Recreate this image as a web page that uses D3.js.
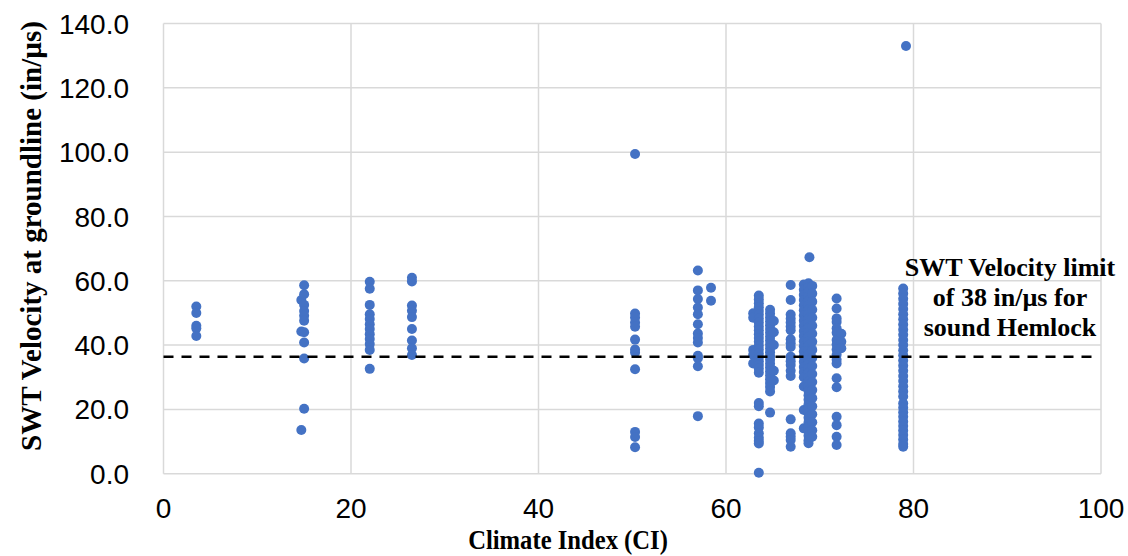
<!DOCTYPE html>
<html>
<head>
<meta charset="utf-8">
<script src="https://cdn.jsdelivr.net/npm/d3@7"></script>
<style>
  body { margin: 0; background: #fff; }
  .tick-label { font-family: "Liberation Sans", Arial, sans-serif; font-size: 28px; fill: #000; }
  .titulo { font-family: "Liberation Serif", "Times New Roman", serif; font-weight: bold; fill: #000; }
</style>
</head>
<body>
<div id="graf"></div>
<script>
// velocities per Climate Index column
const ci03_5 = [52.0, 50.0, 46.0, 45.2, 42.8]
const ci14_7 = [54.0, 44.2, 13.6]
const ci15_0 = [58.6, 55.8, 52.5, 50.6, 49.1, 47.6, 44.0, 40.8, 35.8, 20.2]
const ci22_0 = [59.7, 57.5, 52.5, 49.6, 48.1, 46.5, 45.0, 43.4, 41.9, 40.3, 38.5, 32.6]
const ci26_5 = [60.9, 59.8, 52.3, 50.7, 48.7, 45.0, 41.4, 39.0, 36.9]
const ci50_3 = [99.4, 49.8, 48.6, 47.0, 45.7, 41.7, 38.6, 37.7, 32.5, 13.0, 11.4, 8.2]
const ci57_0 = [63.2, 57.0, 54.3, 51.7, 49.6, 46.5, 43.6, 42.2, 40.8, 36.7, 35.9, 33.4, 17.9]
const ci58_4 = [57.8, 53.8]
const ci62_9 = [49.9, 48.5, 38.5, 37.0, 34.3]
const ci63_5 = [55.4, 54.2, 53.0, 51.8, 50.6, 49.4, 48.2, 47.0, 45.8, 44.6, 43.4, 42.2, 41.0, 39.8,
  38.6, 37.4, 36.2, 35.0, 33.8, 32.6, 31.4, 22.0, 21.0, 15.6, 14.4, 12.6, 11.2, 10.2, 9.4, 0.3]
const ci64_7 = [51.0, 49.8, 48.6, 47.4, 46.2, 45.0, 43.8, 42.6, 41.4, 40.2, 39.0, 37.8, 36.6, 35.4,
  34.2, 33.0, 31.8, 30.6, 29.4, 28.2, 27.0, 25.6, 19.0]
const ci65_1 = [47.5, 44.0, 40.0, 32.0, 29.0]
const ci66_9 = [58.7, 54.0, 49.5, 48.2, 47.0, 45.8, 44.6, 41.8, 40.6, 39.4, 36.4, 35.0, 33.8, 32.0,
  30.4, 16.9, 12.6, 11.5, 10.5, 8.4]
const ci68_3 = [58.8, 57.2, 55.6, 54.0, 52.4, 50.8, 49.2, 47.6, 46.0, 44.4, 42.8, 41.2, 39.6, 38.0,
  36.4, 34.8, 33.2, 31.6, 30.0, 27.1, 19.8, 14.1]
const ci68_8 = [59.2, 58.0, 56.6, 55.2, 53.8, 52.4, 51.0, 49.6, 48.2, 46.8, 45.4, 44.0, 42.6, 41.2,
  39.8, 38.4, 37.0, 35.6, 34.2, 32.8, 31.4, 30.0, 28.6, 27.2, 25.8, 24.4, 23.0, 21.6, 20.2, 18.8,
  17.4, 16.0, 14.6, 13.2, 11.8, 10.4, 9.5]
const ci68_9 = [67.3]
const ci69_2 = [58.4, 56.0, 53.5, 51.0, 48.5, 46.0, 43.5, 41.0, 38.5, 36.0, 33.5, 31.0, 28.5, 26.0,
  23.5, 21.0, 18.5, 16.0, 13.5, 11.5]
const ci71_8 = [54.5, 51.4, 48.3, 47.2, 45.2, 43.8, 41.6, 40.2, 38.6, 37.0, 35.4, 34.3, 29.7, 26.9,
  17.7, 15.1, 11.5, 8.9]
const ci72_3 = [43.5, 41.0, 39.0]
const ci78_9 = [57.6, 56.0, 54.4, 52.8, 51.2, 49.6, 48.0, 46.4, 44.8, 43.2, 41.6, 40.0, 38.4, 36.8,
  35.2, 33.6, 32.0, 30.4, 28.8, 27.2, 25.6, 24.0, 21.9, 20.5, 19.1, 17.7, 16.2, 14.8, 13.4, 12.0,
  10.6, 9.2, 8.4]
const ci79_2 = [133.0]

const columnas = [
  [3.5, ci03_5], [14.7, ci14_7], [15.0, ci15_0], [22.0, ci22_0], [26.5, ci26_5],
  [50.3, ci50_3], [57.0, ci57_0], [58.4, ci58_4], [62.9, ci62_9], [63.5, ci63_5],
  [64.7, ci64_7], [65.1, ci65_1], [66.9, ci66_9], [68.3, ci68_3], [68.8, ci68_8],
  [68.9, ci68_9], [69.2, ci69_2], [71.8, ci71_8], [72.3, ci72_3], [78.9, ci78_9], [79.2, ci79_2],
]

const xTicks = [0, 20, 40, 60, 80, 100]
const yTicks = [0, 20, 40, 60, 80, 100, 120, 140]
const limite = 36.4
const notaLineas = ['SWT Velocity limit', 'of 38 in/\u00b5s for', 'sound Hemlock']

const data = []
columnas.forEach(([ci, vals]) => vals.forEach(v => data.push({ ci: ci, v: v })))

const anchoTotal = 1128
const altoTotal = 556

const svg = d3.select('#graf')
  .append('svg')
  .attr('width', anchoTotal)
  .attr('height', altoTotal)

const x = d3.scaleLinear().domain([0, 100]).range([163.5, 1101])
const y = d3.scaleLinear().domain([0, 140]).range([473.7, 23.5])

// grid + border
svg.append('g')
  .selectAll('line')
  .data(yTicks)
  .join('line')
  .attr('x1', x(0))
  .attr('x2', x(100))
  .attr('y1', d => y(d))
  .attr('y2', d => y(d))
  .attr('stroke', '#d9d9d9')
  .attr('stroke-width', 1.5)

svg.append('g')
  .selectAll('line')
  .data(xTicks)
  .join('line')
  .attr('x1', d => x(d))
  .attr('x2', d => x(d))
  .attr('y1', y(0))
  .attr('y2', y(140))
  .attr('stroke', '#d9d9d9')
  .attr('stroke-width', 1.5)

// tick labels
svg.append('g')
  .selectAll('text')
  .data(yTicks)
  .join('text')
  .attr('class', 'tick-label')
  .attr('x', 129)
  .attr('y', d => y(d))
  .attr('dy', '0.36em')
  .attr('text-anchor', 'end')
  .text(d => d3.format('.1f')(d))

svg.append('g')
  .selectAll('text')
  .data(xTicks)
  .join('text')
  .attr('class', 'tick-label')
  .attr('x', d => x(d))
  .attr('y', 518)
  .attr('text-anchor', 'middle')
  .text(d => d)

// points
svg.append('g')
  .selectAll('circle')
  .data(data)
  .join('circle')
  .attr('cx', d => x(d.ci))
  .attr('cy', d => y(d.v))
  .attr('r', 5)
  .attr('fill', '#4472c4')

// limit line
svg.append('line')
  .attr('x1', x(0))
  .attr('x2', x(99.8))
  .attr('y1', y(limite))
  .attr('y2', y(limite))
  .attr('stroke', '#000')
  .attr('stroke-width', 2.5)
  .attr('stroke-dasharray', '10,8')

// note next to the limit line
svg.append('g')
  .selectAll('text')
  .data(notaLineas)
  .join('text')
  .attr('class', 'titulo')
  .attr('font-size', 26)
  .attr('x', 1010)
  .attr('y', (d, i) => 276 + i * 30)
  .attr('text-anchor', 'middle')
  .text(d => d)

// axis titles
svg.append('text')
  .attr('class', 'titulo')
  .attr('font-size', 28)
  .attr('transform', 'translate(568, 549) scale(0.88, 1)')
  .attr('text-anchor', 'middle')
  .text('Climate Index (CI)')

svg.append('text')
  .attr('class', 'titulo')
  .attr('font-size', 29)
  .attr('transform', 'translate(41, 236) rotate(-90)')
  .attr('text-anchor', 'middle')
  .text('SWT Velocity at groundline (in/\u00b5s)')
</script>
</body>
</html>
